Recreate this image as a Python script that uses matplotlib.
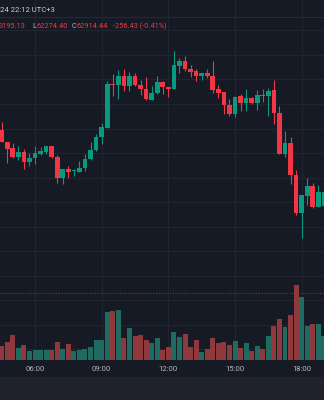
import matplotlib
matplotlib.use("Agg")
import matplotlib.pyplot as plt
from matplotlib.patches import Rectangle
import numpy as np

# 15 minute candles, first one at 04:30
start_hour = 4.5
step_hour = 0.25

opens = [64485, 64363, 64299, 64207, 64258, 64162, 64203, 64241, 64264, 64322,
         64210, 63993, 64088, 64071, 64060, 64095, 64190, 64278, 64414, 64509,
         64951, 64941, 65032, 64937, 65032, 64941, 64906, 64794, 64859, 64974,
         64924, 64900, 65141, 65188, 65107, 65086, 65039, 65063, 65036, 64903,
         64870, 64743, 64651, 64829, 64757, 64811, 64760, 64842, 64832, 64890,
         64662, 64244, 64350, 64030, 63643, 63813, 63912, 63704, 63711]
highs = [64570, 64368, 64350, 64322, 64292, 64251, 64322, 64309, 64324, 64327,
         64231, 64088, 64118, 64085, 64169, 64244, 64363, 64441, 64557, 64988,
         65056, 65097, 65110, 65079, 65063, 64995, 65025, 64931, 65032, 64988,
         64926, 65287, 65222, 65239, 65148, 65107, 65065, 65107, 65191, 64944,
         64872, 64804, 64835, 64849, 64903, 64825, 64893, 64906, 64913, 64995,
         64733, 64475, 64414, 64078, 63822, 63993, 63942, 63925, 63894]
lows = [64358, 64152, 64205, 64180, 64088, 64122, 64142, 64231, 64241, 64197,
        63948, 63932, 63999, 64020, 64058, 64067, 64180, 64276, 64346, 64507,
        64835, 64798, 64880, 64886, 64937, 64845, 64791, 64792, 64852, 64849,
        64825, 64898, 65066, 65090, 65025, 64988, 64998, 65012, 64865, 64808,
        64648, 64631, 64621, 64676, 64682, 64747, 64689, 64768, 64628, 64550,
        64238, 64213, 63938, 63619, 63382, 63721, 63687, 63702, 63690]
closes = [64366, 64295, 64207, 64258, 64162, 64203, 64248, 64268, 64322, 64207,
          63993, 64085, 64060, 64078, 64098, 64193, 64282, 64414, 64516, 64954,
          64941, 65032, 64937, 65032, 64941, 64906, 64798, 64859, 64974, 64920,
          64900, 65148, 65188, 65104, 65079, 65039, 65063, 65036, 64896, 64865,
          64743, 64651, 64825, 64757, 64811, 64760, 64842, 64835, 64886, 64662,
          64244, 64350, 64027, 63643, 63820, 63912, 63704, 63857, 63853]
volumes = [140, 180, 250, 117, 150, 93, 97, 97, 97, 97,
           180, 107, 160, 90, 97, 107, 127, 197, 200, 480,
           493, 500, 220, 317, 237, 247, 200, 170, 220, 97,
           127, 280, 230, 257, 130, 197, 77, 107, 217, 173,
           177, 147, 190, 117, 167, 87, 137, 107, 237, 343,
           410, 333, 450, 750, 627, 337, 360, 360, 240]

time_labels = ["06:00", "09:00", "12:00", "15:00", "18:00"]
label_hours = [6, 9, 12, 15, 18]
last_price = 62824

header = "24 22:12 UTC+3"
legend_parts = [("3195.13", "red"), ("L", "grey"), ("62274.40", "red"),
                ("C", "grey"), ("62914.44", "red"), ("-256.43 (-0.41%)", "red")]

BG = "#161a25"
GRID = "#21252f"
UP = "#089981"
DOWN = "#f23645"
VOL_UP = "#1f6b62"
VOL_DOWN = "#8f393c"
TXT = "#c9ccd4"

t = start_hour + step_hour * np.arange(len(opens))
o = np.array(opens)
c = np.array(closes)
up = c >= o

fig = plt.figure(figsize=(3.24, 4.0), dpi=100)
fig.patch.set_facecolor(BG)

# price pane over the whole picture
ax = fig.add_axes([0, 0, 1, 1])
ax.set_facecolor(BG)
ax.set_xlim(4.425, 19.005)
ax.set_ylim(65810 - 10.19 * 400, 65810)
ax.axis("off")

for p in np.arange(62250, 65751, 250):
    if p <= 65500:
        ax.axhline(p, color=GRID, lw=0.8, zorder=0)
for h in label_hours:
    ax.axvline(h, color=GRID, lw=0.8, zorder=0)

cols = np.where(up, UP, DOWN)
ax.vlines(t, lows, highs, colors=cols, lw=0.8, zorder=2)
body_h = np.maximum(np.abs(c - o), 9)
ax.bar(t, body_h, bottom=np.minimum(o, c), width=0.21, color=cols,
       linewidth=0, zorder=3)

ax.axhline(last_price, color="#8a2c3c", lw=0.8, ls=(0, (1, 1.5)), zorder=1)

# volume pane
vax = fig.add_axes([0, 0.1, 1, 0.9])
vax.set_facecolor("none")
vax.set_xlim(ax.get_xlim())
vax.set_ylim(0, 3600)
vax.axis("off")
vax.bar(t, volumes, width=0.225, color=np.where(up, VOL_UP, VOL_DOWN), linewidth=0)

# bottom axis strip
fig.add_artist(Rectangle((0, 23 / 400), 1, 17 / 400, transform=fig.transFigure,
                         facecolor=BG, edgecolor="none", zorder=5))
fig.add_artist(Rectangle((0, 0), 1, 23 / 400, transform=fig.transFigure,
                         facecolor="#1f222b", edgecolor="none", zorder=5))
for h, lab in zip(label_hours, time_labels):
    x = (h - 4.425) / (19.005 - 4.425)
    fig.text(x, 1 - 369 / 400, lab, ha="center", va="center", fontsize=5.6,
             family="Roboto", color="#b2b5be", zorder=6)

# header
fig.add_artist(plt.Line2D([0, 1], [1 - 16.5 / 400] * 2, transform=fig.transFigure,
                          color="#262a35", lw=0.8, zorder=5))
fig.text(0.0, 1 - 9.5 / 400, header, ha="left", va="center", fontsize=5.5,
         family="Roboto", color=TXT)
xs = [-1, 32, 36.5, 71.5, 76.5, 113]
for (txt, kind), x in zip(legend_parts, xs):
    fig.text(x / 324, 1 - 26.5 / 400, txt, ha="left", va="center", fontsize=5.3,
             family="Roboto", color=DOWN if kind == "red" else "#b2b5be")

fig.savefig("out.png", dpi=100, facecolor=BG)
